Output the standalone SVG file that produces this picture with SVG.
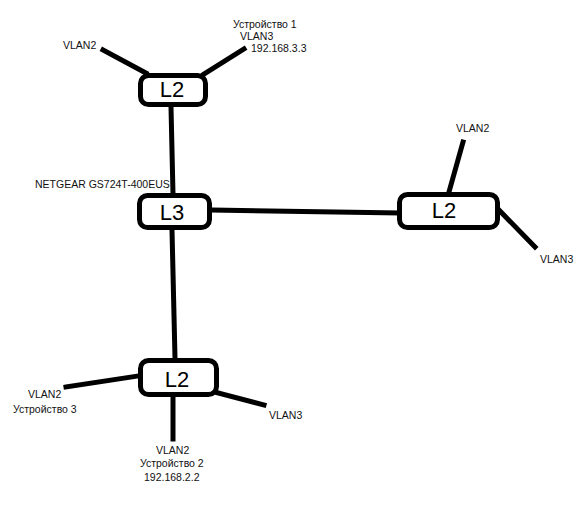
<svg xmlns="http://www.w3.org/2000/svg" width="578" height="505" viewBox="0 0 578 505">
<style>
.box{fill:#fff;stroke:#000;stroke-width:5}
.ln{stroke:#000;stroke-width:5;stroke-linecap:square;fill:none}
.big{font-family:"Liberation Sans",Arial,sans-serif;font-size:22px;fill:#000;text-anchor:middle}
.lbl{font-family:"Liberation Sans",Arial,sans-serif;font-size:10.5px;fill:#111}
</style>
<rect width="578" height="505" fill="#fff"/>
<g id="connectors">
<line class="ln" x1="103" y1="50" x2="146" y2="73"/>
<line class="ln" x1="244" y1="49" x2="204" y2="74"/>
<line class="ln" x1="171" y1="107" x2="173" y2="194"/>
<line class="ln" x1="212" y1="210" x2="398" y2="213"/>
<line class="ln" x1="463" y1="142" x2="449" y2="192"/>
<line class="ln" x1="499" y1="210" x2="535" y2="247"/>
<line class="ln" x1="172" y1="230" x2="175" y2="358"/>
<line class="ln" x1="66" y1="387" x2="138" y2="376"/>
<line class="ln" x1="218" y1="393" x2="264" y2="405"/>
<line class="ln" x1="173" y1="397" x2="173" y2="439"/>
</g>
<g id="l2-top">
<rect class="box" x="140.5" y="75.5" width="65" height="29" rx="8"/>
<text class="big" x="172" y="97">L2</text>
</g>
<g id="l3">
<rect class="box" x="139.5" y="195.5" width="70" height="32" rx="8"/>
<text class="big" x="172" y="220">L3</text>
</g>
<g id="l2-right">
<rect class="box" x="399.5" y="194.5" width="98" height="33" rx="8"/>
<text class="big" x="444" y="218">L2</text>
</g>
<g id="l2-bottom">
<rect class="box" x="140.5" y="360.5" width="76" height="34" rx="8"/>
<text class="big" x="177" y="387">L2</text>
</g>
<g id="labels">
<text class="lbl" x="63" y="49">VLAN2</text>
<text class="lbl" x="233" y="28">Устройство 1</text>
<text class="lbl" x="240" y="40">VLAN3</text>
<text class="lbl" x="251" y="52">192.168.3.3</text>
<text class="lbl" x="35" y="188">NETGEAR GS724T-400EUS</text>
<text class="lbl" x="456" y="132">VLAN2</text>
<text class="lbl" x="540" y="263">VLAN3</text>
<text class="lbl" x="28" y="398">VLAN2</text>
<text class="lbl" x="13" y="413">Устройство 3</text>
<text class="lbl" x="269" y="419">VLAN3</text>
<text class="lbl" x="156" y="454">VLAN2</text>
<text class="lbl" x="140" y="467">Устройство 2</text>
<text class="lbl" x="144" y="481">192.168.2.2</text>
</g>
</svg>
